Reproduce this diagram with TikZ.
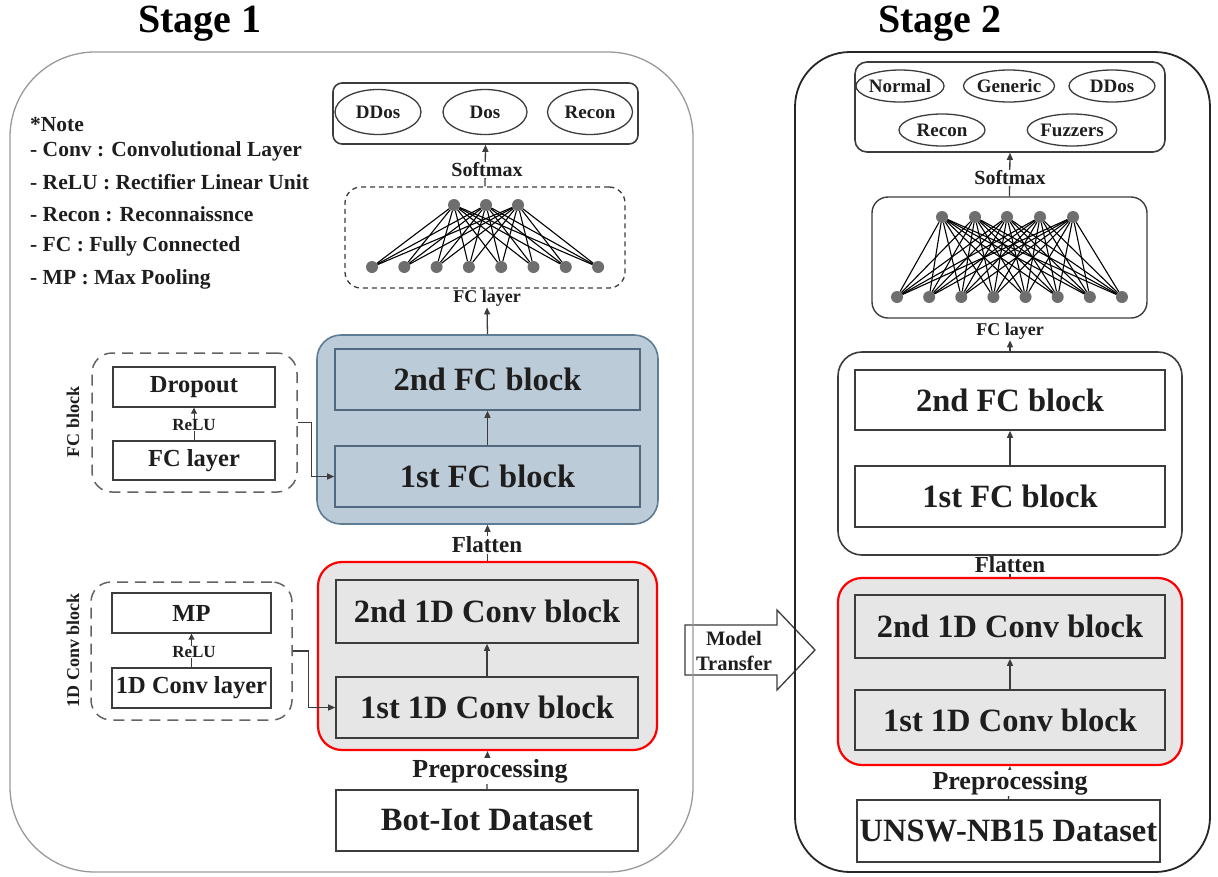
\documentclass[tikz,border=0pt]{standalone}
\usepackage{fontspec}
\setmainfont{Liberation Serif}
\usetikzlibrary{arrows.meta,shapes.geometric}
\definecolor{ink}{HTML}{1E1E1E}
\definecolor{boxline}{HTML}{3C3C3C}
\definecolor{grayfill}{HTML}{E6E6E6}
\definecolor{bluefill}{HTML}{BCCBD8}
\definecolor{blueline}{HTML}{5F7C95}
\definecolor{neuron}{HTML}{6E6E6E}
\tikzset{
  x=1pt, y=-1pt,
  every node/.style={text=ink},
  arr/.style={-{Triangle[length=7pt,width=6pt]}, line width=1.3pt, draw=boxline},
  stageone/.style={draw=gray!80, line width=1.3pt, rounded corners=85pt, inner sep=0pt},
  stagetwo/.style={draw=black!85, line width=1.8pt, rounded corners=55pt, inner sep=0pt},
  blockbox/.style={draw=boxline, line width=1.6pt, inner sep=0pt, font=\fontsize{32.5}{36}\selectfont\bfseries},
  smallbox/.style={draw=boxline, line width=1.4pt, inner sep=0pt, font=\fontsize{24.5}{27}\selectfont\bfseries},
  outbox/.style={draw=boxline, line width=1.6pt, rounded corners=9pt, inner sep=0pt},
  cls/.style={ellipse, draw=boxline, line width=1.3pt, inner sep=0pt, font=\fontsize{19}{22}\selectfont\bfseries},
  midlbl/.style={fill=white, inner sep=1pt, font=\fontsize{23}{26}\selectfont\bfseries},
  preplbl/.style={fill=white, inner sep=1pt, font=\fontsize{26}{28}\selectfont\bfseries},
  smlbl/.style={fill=white, inner sep=1pt, font=\fontsize{18}{20}\selectfont\bfseries},
  softlbl/.style={fill=white, inner sep=1pt, font=\fontsize{20}{22}\selectfont\bfseries},
  relulbl/.style={fill=white, inner sep=0.5pt, font=\fontsize{17}{19}\selectfont\bfseries},
  notelbl/.style={anchor=west, inner sep=0pt, font=\fontsize{21.5}{23}\selectfont\bfseries},
  sidelbl/.style={rotate=90, inner sep=0pt, font=\fontsize{18}{20}\selectfont\bfseries},
  titlelbl/.style={font=\fontsize{40}{44}\selectfont\bfseries, text=black},
  unit/.style={circle, fill=neuron, minimum size=12pt, inner sep=0pt},
  link/.style={line width=1.1pt, draw=black},
  longdash/.style={dash pattern=on 11pt off 7pt},
}
\begin{document}
\begin{tikzpicture}
\useasboundingbox (0,0) rectangle (1218,876);

% ---------- Model transfer arrow (behind the stage frames) ----------
\draw[line width=1.3pt, draw=boxline, fill=white]
  (685,625) -- (777,625) -- (777,610) -- (815,650) -- (777,690) -- (777,675) -- (685,675) -- cycle;
\node[align=center, font=\fontsize{20.5}{25}\selectfont\bfseries, inner sep=0pt] (mt) at (734,651) {Model\\Transfer};

% ---------- Stage frames ----------
\node[stageone, minimum width=683pt, minimum height=820pt] (s1) at (351.5,462) {};
\node[stagetwo, minimum width=415pt, minimum height=820pt] (s2) at (1002.5,462) {};
\node[titlelbl] (t1) at (200,24) {Stage 1};
\node[titlelbl] (t2) at (940,24) {Stage 2};

% ---------- Notes ----------
\node[notelbl] (n0) at (30,125) {*Note};
\node[notelbl] (n1) at (30,151) {- Conv : Convolutional Layer};
\node[notelbl] (n2) at (30,182) {- ReLU : Rectifier Linear Unit};
\node[notelbl] (n3) at (30,214) {- Recon : Reconnaissnce};
\node[notelbl] (n4) at (30,246) {- FC : Fully Connected};
\node[notelbl] (n5) at (30,279) {- MP : Max Pooling};

% ---------- Stage 1 main column ----------
\node[outbox, minimum width=305pt, minimum height=61pt] (out1) at (485.5,113.5) {};
\node[cls, minimum width=86pt, minimum height=45pt] (c11) at (378,112) {DDos};
\node[cls, minimum width=84pt, minimum height=45pt] (c12) at (485,112) {Dos};
\node[cls, minimum width=85pt, minimum height=45pt] (c13) at (590,112) {Recon};

\node[draw=boxline, line width=1.3pt, dash pattern=on 5pt off 4pt, rounded corners=16pt, minimum width=280pt, minimum height=101pt, inner sep=0pt] (net1) at (485,237.5) {};
\foreach \i/\x in {1/454,2/486,3/518} \node[unit] (a\i) at (\x,205) {};
\foreach \i in {1,...,8} \node[unit] (b\i) at ({372+32.3*(\i-1)},267) {};
\foreach \i in {1,2,3} \foreach \j in {1,...,8} \draw[link] (a\i) -- (b\j);

\node[draw=blueline, fill=bluefill, line width=1.6pt, rounded corners=24pt, minimum width=341pt, minimum height=189pt, inner sep=0pt] (blue) at (487.5,429.5) {};
\node[blockbox, draw=blueline!85!black, fill=bluefill, minimum width=305pt, minimum height=61pt] (fc2a) at (487.5,379.5) {2nd FC block};
\node[blockbox, draw=blueline!85!black, fill=bluefill, minimum width=305pt, minimum height=61pt] (fc1a) at (487.5,476.5) {1st FC block};

\node[draw=red, fill=grayfill, line width=2.2pt, rounded corners=24pt, minimum width=339pt, minimum height=188pt, inner sep=0pt] (red1) at (487.5,656) {};
\node[blockbox, fill=grayfill, minimum width=302pt, minimum height=63pt] (cv2a) at (487,611.5) {2nd 1D Conv block};
\node[blockbox, fill=grayfill, minimum width=302pt, minimum height=61pt] (cv1a) at (487,707.5) {1st 1D Conv block};

\node[blockbox, fill=white, minimum width=302pt, minimum height=61pt] (bot) at (487,820.5) {Bot-Iot Dataset};

\draw[arr] (bot.north) -- (red1.south);
\draw[arr] (cv1a.north) -- (cv2a.south);
\draw[arr] (red1.north) -- (blue.south);
\draw[arr] (fc1a.north) -- (fc2a.south);
\draw[arr] (net1.north) -- (out1.south);
\node[preplbl] (prep1) at (490,771) {Preprocessing};
\node[midlbl] (flat1) at (487,545) {Flatten};
\node[softlbl] (soft1) at (487,170) {Softmax};
\node[smlbl] (fcl1) at (487,298) {FC layer};
\draw[arr] (blue.north) -- (fcl1.south);

% ---------- FC block detail ----------
\node[draw=boxline!80, line width=1.5pt, longdash, rounded corners=20pt, minimum width=205pt, minimum height=139pt, inner sep=0pt] (fcdash) at (194.5,422.5) {};
\node[smallbox, fill=white, minimum width=162pt, minimum height=40pt] (drop) at (194,387) {Dropout};
\node[smallbox, fill=white, minimum width=162pt, minimum height=39pt] (fcl) at (194,460.5) {FC layer};
\draw[arr, line width=1pt, -{Triangle[length=6pt,width=6pt]}] (fcl.north) -- (drop.south);
\node[relulbl] (relu1) at (194,425) {ReLU};
\node[sidelbl] (fcside) at (73,422) {FC block};
\draw[arr, line width=1.2pt] (fcdash.east) -- ++(14,0) |- (fc1a.west);

% ---------- 1D Conv block detail ----------
\node[draw=boxline!80, line width=1.5pt, longdash, rounded corners=20pt, minimum width=201pt, minimum height=138pt, inner sep=0pt] (cvdash) at (191.5,651) {};
\node[smallbox, fill=white, minimum width=159pt, minimum height=40pt] (mp) at (191.5,613) {MP};
\node[smallbox, fill=white, minimum width=159pt, minimum height=40pt] (cvl) at (191.5,688) {1D Conv layer};
\draw[arr, line width=1pt, -{Triangle[length=6pt,width=6pt]}] (cvl.north) -- (mp.south);
\node[relulbl] (relu2) at (194,652) {ReLU};
\node[sidelbl] (cvside) at (73,650) {1D Conv block};
\draw[arr, line width=1.2pt] (cvdash.east) -- ++(16,0) |- (cv1a.west);

% ---------- Stage 2 column ----------
\node[outbox, rounded corners=12pt, minimum width=310pt, minimum height=90pt] (out2) at (1010,107) {};
\node[cls, minimum width=86pt, minimum height=32pt] (c21) at (900,86) {Normal};
\node[cls, minimum width=86pt, minimum height=32pt] (c22) at (1009,86) {Generic};
\node[cls, minimum width=86pt, minimum height=32pt] (c23) at (1112,86) {DDos};
\node[cls, minimum width=86pt, minimum height=32pt] (c24) at (942,130) {Recon};
\node[cls, minimum width=86pt, minimum height=32pt] (c25) at (1072,130) {Fuzzers};

\node[draw=boxline, line width=1.4pt, rounded corners=16pt, minimum width=275pt, minimum height=121pt, inner sep=0pt] (net2) at (1009.5,257.5) {};
\foreach \i/\x in {1/942,2/975,3/1007,4/1040,5/1073} \node[unit] (p\i) at (\x,217) {};
\foreach \i in {1,...,8} \node[unit] (q\i) at ({897+32.14*(\i-1)},297) {};
\foreach \i in {1,...,5} \foreach \j in {1,...,8} \draw[link] (p\i) -- (q\j);

\node[draw=boxline, fill=white, line width=1.6pt, rounded corners=24pt, minimum width=344pt, minimum height=203pt, inner sep=0pt] (wbox) at (1010,453.5) {};
\node[blockbox, fill=white, minimum width=310pt, minimum height=60pt] (fc2b) at (1010,400) {2nd FC block};
\node[blockbox, fill=white, minimum width=310pt, minimum height=61pt] (fc1b) at (1010,496.5) {1st FC block};

\node[draw=red, fill=grayfill, line width=2.2pt, rounded corners=24pt, minimum width=344pt, minimum height=187pt, inner sep=0pt] (red2) at (1010,671.5) {};
\node[blockbox, fill=grayfill, minimum width=310pt, minimum height=63pt] (cv2b) at (1010,626.5) {2nd 1D Conv block};
\node[blockbox, fill=grayfill, minimum width=310pt, minimum height=60pt] (cv1b) at (1010,720) {1st 1D Conv block};

\node[blockbox, fill=white, minimum width=303pt, minimum height=62pt] (unsw) at (1008.5,831) {UNSW-NB15 Dataset};

\draw[arr] (unsw.north) -- (red2.south);
\draw[arr] (cv1b.north) -- (cv2b.south);
\draw[arr] (red2.north) -- (wbox.south);
\draw[arr] (fc1b.north) -- (fc2b.south);
\draw[arr] (net2.north) -- (out2.south);
\node[preplbl] (prep2) at (1010,783) {Preprocessing};
\node[midlbl] (flat2) at (1010,565) {Flatten};
\node[softlbl] (soft2) at (1010,178) {Softmax};
\node[smlbl] (fcl2) at (1010,331) {FC layer};
\draw[arr] (wbox.north) -- (fcl2.south);
\end{tikzpicture}
\end{document}
